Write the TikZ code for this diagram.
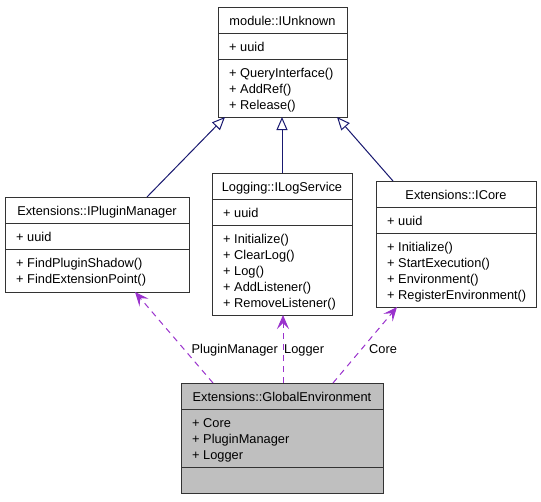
\documentclass[tikz,border=0pt]{standalone}
\usepackage{fontspec}
\setmainfont{Liberation Sans}
\usetikzlibrary{arrows.meta}
\definecolor{boxline}{HTML}{333333}
\definecolor{inhcol}{HTML}{191970}
\definecolor{usecol}{HTML}{9A32CD}
\definecolor{mainfill}{HTML}{BFBFBF}
\newcommand\clsfont{\fontsize{12.8}{16}\selectfont}
\begin{document}
\begin{tikzpicture}[x=1pt,y=-1pt,
  cls/.style={draw=boxline, line width=1pt, fill=white, inner sep=0pt, outer sep=0pt, anchor=north west},
  mainclass/.style={cls, fill=mainfill},
  sep/.style={draw=boxline, line width=1pt},
  txt/.style={inner sep=0pt, anchor=base west, font=\clsfont},
  ttl/.style={inner sep=0pt, anchor=base, font=\clsfont},
  lbl/.style={inner sep=0pt, font=\clsfont},
  inherit/.style={draw=inhcol, line width=1pt, -{Triangle[open, length=13pt, width=11pt]}},
  uses/.style={draw=usecol, line width=1pt, dash pattern=on 6pt off 5pt, -{Stealth[length=14pt, width=12pt, inset=6pt]}}]
\useasboundingbox[fill=white] (0,0) rectangle (541,501);

% module::IUnknown
\node[cls, minimum width=129pt, minimum height=110pt] (unk) at (218,7) {};
\draw[sep] (unk.west |- 0,33) -- (unk.east |- 0,33);
\draw[sep] (unk.west |- 0,59) -- (unk.east |- 0,59);
\node[ttl] (unkT) at (282.5,25) {module::IUnknown};
\node[txt] (unkA) at (229,51) {+ uuid};
\node[txt] (unkM1) at (229,77) {+ QueryInterface()};
\node[txt] (unkM2) at (229,93) {+ AddRef()};
\node[txt] (unkM3) at (229,109) {+ Release()};

% Extensions::IPluginManager
\node[cls, minimum width=184pt, minimum height=95pt] (ipm) at (5,197) {};
\draw[sep] (ipm.west |- 0,223) -- (ipm.east |- 0,223);
\draw[sep] (ipm.west |- 0,249) -- (ipm.east |- 0,249);
\node[ttl] (ipmT) at (97,215) {Extensions::IPluginManager};
\node[txt] (ipmA) at (16,241) {+ uuid};
\node[txt] (ipmM1) at (16,267) {+ FindPluginShadow()};
\node[txt] (ipmM2) at (16,283) {+ FindExtensionPoint()};

% Logging::ILogService
\node[cls, minimum width=140pt, minimum height=142pt] (log) at (212,173) {};
\draw[sep] (log.west |- 0,199) -- (log.east |- 0,199);
\draw[sep] (log.west |- 0,225) -- (log.east |- 0,225);
\node[ttl] (logT) at (282,191) {Logging::ILogService};
\node[txt] (logA) at (223,217) {+ uuid};
\node[txt] (logM1) at (223,243) {+ Initialize()};
\node[txt] (logM2) at (223,259) {+ ClearLog()};
\node[txt] (logM3) at (223,275) {+ Log()};
\node[txt] (logM4) at (223,291) {+ AddListener()};
\node[txt] (logM5) at (223,307) {+ RemoveListener()};

% Extensions::ICore
\node[cls, minimum width=160pt, minimum height=126pt] (core) at (376,181) {};
\draw[sep] (core.west |- 0,207) -- (core.east |- 0,207);
\draw[sep] (core.west |- 0,233) -- (core.east |- 0,233);
\node[ttl] (coreT) at (456,199) {Extensions::ICore};
\node[txt] (coreA) at (387,225) {+ uuid};
\node[txt] (coreM1) at (387,251) {+ Initialize()};
\node[txt] (coreM2) at (387,267) {+ StartExecution()};
\node[txt] (coreM3) at (387,283) {+ Environment()};
\node[txt] (coreM4) at (387,299) {+ RegisterEnvironment()};

% Extensions::GlobalEnvironment
\node[mainclass, minimum width=202pt, minimum height=110pt] (env) at (181,383) {};
\draw[sep] (env.west |- 0,409) -- (env.east |- 0,409);
\draw[sep] (env.west |- 0,467) -- (env.east |- 0,467);
\node[ttl] (envT) at (282,401) {Extensions::GlobalEnvironment};
\node[txt] (envA1) at (192,427) {+ Core};
\node[txt] (envA2) at (192,443) {+ PluginManager};
\node[txt] (envA3) at (192,459) {+ Logger};

% attachment points on the class borders
\coordinate (unkL) at (225,117);
\coordinate (unkC) at (282,117);
\coordinate (unkR) at (337,117);
\coordinate (ipmTop) at (147,197);
\coordinate (logTop) at (282,173);
\coordinate (coreTop) at (393,181);
\coordinate (ipmBot) at (135,292);
\coordinate (logBot) at (283,315);
\coordinate (coreBot) at (397,307);
\coordinate (envL) at (213,383);
\coordinate (envC) at (283,383);
\coordinate (envR) at (333,383);

% generalisation
\draw[inherit] (ipmTop) -- (unkL);
\draw[inherit] (logTop) -- (unkC);
\draw[inherit] (coreTop) -- (unkR);

% usage relations
\draw[uses] (envL) -- (ipmBot);
\draw[uses] (envC) -- (logBot);
\draw[uses] (envR) -- (coreBot);
\node[lbl, anchor=base east] (lblPM) at (278,353) {PluginManager};
\node[lbl, anchor=base west] (lblLog) at (284,353) {Logger};
\node[lbl, anchor=base west] (lblCore) at (369,353) {Core};
\end{tikzpicture}
\end{document}
